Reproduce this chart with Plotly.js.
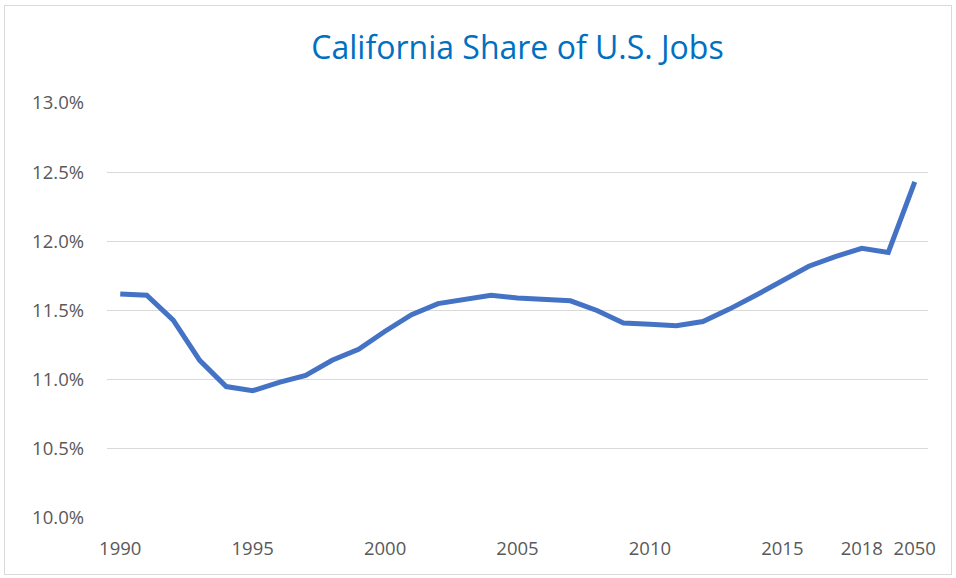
<!DOCTYPE html>
<html>
<head>
<meta charset="utf-8">
<script src="https://cdn.plot.ly/plotly-3.0.1.min.js"></script>
<style>
html,body{margin:0;padding:0;background:#fff;}
#wrap{position:absolute;left:0;top:0;width:956px;height:578px;}
#frame{position:absolute;left:4px;top:5px;width:948px;height:570px;border:1px solid #d9d9d9;box-sizing:border-box;pointer-events:none;}
</style>
</head>
<body>
<div id="wrap"><div id="chart"></div><div id="frame"></div></div>
<script>
const years = ["1990","1991","1992","1993","1994","1995","1996","1997","1998","1999",
  "2000","2001","2002","2003","2004","2005","2006","2007","2008","2009",
  "2010","2011","2012","2013","2014","2015","2016","2017","2018","2019","2050"];
const share = [11.62,11.61,11.43,11.14,10.95,10.92,10.98,11.03,11.14,11.22,
  11.35,11.47,11.55,11.58,11.61,11.59,11.58,11.57,11.50,11.41,
  11.40,11.39,11.42,11.51,11.61,11.71,11.82,11.89,11.95,11.92,12.43];
const tickYears = ["1990","1995","2000","2005","2010","2015","2018","2050"];

const trace = {
  x: years, y: share, type: 'scatter', mode: 'lines',
  line: {color: '#4472C4', width: 5},
  hoverinfo: 'x+y'
};
const layout = {
  width: 956, height: 578,
  margin: {l: 107, r: 28, t: 103, b: 60},
  paper_bgcolor: '#fff', plot_bgcolor: '#fff',
  showlegend: false,
  font: {family: 'Open Sans, Noto Sans, sans-serif', color: '#595959', size: 18},
  title: {text: 'California Share of U.S. Jobs', x: 0.5, xref: 'paper', xanchor: 'center',
    y: 1 - 48/578, yref: 'container', yanchor: 'middle',
    font: {family: 'Open Sans, Noto Sans, sans-serif', size: 32, color: '#0070C0'}},
  xaxis: {type: 'category', tickmode: 'array', tickvals: tickYears, ticktext: tickYears,
    range: [-0.5, years.length - 0.5],
    showgrid: false, zeroline: false, showline: false, ticks: '',
    ticklabelstandoff: 17, tickfont: {size: 18.5, color: '#595959'}},
  yaxis: {range: [10, 13], dtick: 0.5, tick0: 10, tickformat: '.1f', ticksuffix: '%',
    showgrid: true, gridcolor: '#d9d9d9', gridwidth: 1.3, zeroline: false, showline: false,
    ticks: '', ticklabelstandoff: 22, tickfont: {size: 18.5, color: '#595959'}}
};
Plotly.newPlot('chart', [trace], layout, {displayModeBar: false, staticPlot: true});
</script>
</body>
</html>
